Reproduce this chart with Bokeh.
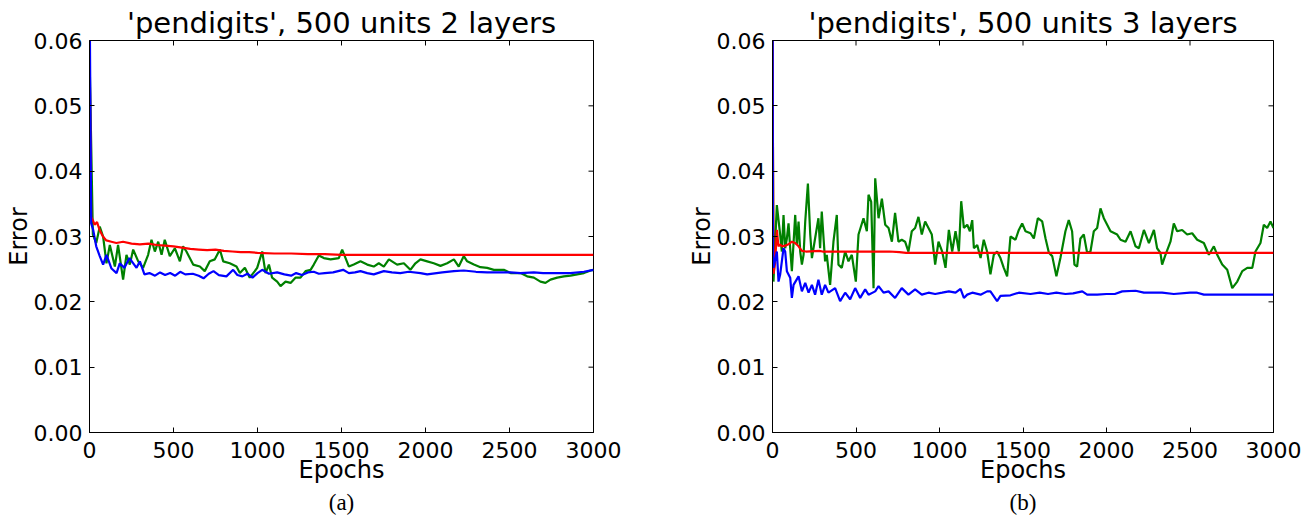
import math
from bokeh.plotting import figure
from bokeh.models import FixedTicker, PrintfTickFormatter, Range1d, Title
from bokeh.layouts import row
from bokeh.embed import file_html
from bokeh.resources import INLINE

x_ticks = [0, 500, 1000, 1500, 2000, 2500, 3000]
y_ticks = [0.0, 0.01, 0.02, 0.03, 0.04, 0.05, 0.06]

# ---------------- panel (a): 2 layers ----------------
a_red_x = [0, 10, 20, 30, 45, 60, 80, 100, 130, 160, 200, 250, 300, 350, 400, 450, 500, 550, 600,
           650, 700, 750, 800, 850, 900, 950, 1000, 1100, 1200, 1300, 1400, 1500, 3000]
a_red_y = [0.060, 0.0330, 0.0325, 0.0318, 0.0322, 0.0310, 0.0300, 0.0294, 0.0292, 0.0290, 0.0292,
           0.0289, 0.0288, 0.0289, 0.0287, 0.0286, 0.0285, 0.0283, 0.0281, 0.0280, 0.0279, 0.0280,
           0.0278, 0.0277, 0.0276, 0.0276, 0.0275, 0.0274, 0.0274, 0.0273, 0.0273, 0.0272, 0.0272]

a_green_x = [0, 20, 40, 61, 81, 101, 121, 151, 170, 200, 220, 240, 260, 290, 319, 349, 369, 389, 409,
             429, 448, 478, 508, 538, 557, 577, 617, 657, 686, 716, 746, 776, 796, 835, 875, 895, 925,
             954, 984, 998, 1028, 1048, 1068, 1087, 1117, 1137, 1167, 1197, 1226, 1256, 1286, 1316,
             1335, 1365, 1395, 1435, 1484, 1504, 1524, 1544, 1573, 1613, 1653, 1692, 1722, 1752, 1782,
             1831, 1871, 1910, 1940, 1970, 2010, 2049, 2089, 2129, 2169, 2198, 2228, 2248, 2288, 2327,
             2367, 2407, 2466, 2506, 2566, 2605, 2645, 2684, 2714, 2744, 2784, 2824, 2863, 2903, 2943,
             2983, 3000]
a_green_y = [0.058, 0.0303, 0.0290, 0.0315, 0.0300, 0.0259, 0.0287, 0.0254, 0.0287, 0.0234, 0.0272,
             0.0257, 0.0280, 0.0262, 0.0252, 0.0272, 0.0295, 0.0277, 0.0292, 0.0272, 0.0295, 0.0270,
             0.0282, 0.0262, 0.0285, 0.0277, 0.0257, 0.0254, 0.0247, 0.0262, 0.0265, 0.0280, 0.0262,
             0.0259, 0.0254, 0.0244, 0.0252, 0.0237, 0.0247, 0.0252, 0.0277, 0.0244, 0.0257, 0.0237,
             0.0231, 0.0224, 0.0231, 0.0229, 0.0237, 0.0237, 0.0247, 0.0249, 0.0257, 0.0271, 0.0267,
             0.0265, 0.0267, 0.0280, 0.0267, 0.0254, 0.0257, 0.0262, 0.0257, 0.0254, 0.0259, 0.0254,
             0.0265, 0.0257, 0.0259, 0.0249, 0.0259, 0.0265, 0.0262, 0.0259, 0.0255, 0.0259, 0.0265,
             0.0254, 0.0270, 0.0262, 0.0257, 0.0253, 0.0252, 0.0249, 0.0249, 0.0244, 0.0244, 0.0239,
             0.0237, 0.0231, 0.0229, 0.0234, 0.0237, 0.0239, 0.0240, 0.0242, 0.0244, 0.0248, 0.0249]

a_blue_x = [0, 10, 22, 40, 61, 81, 101, 131, 161, 180, 208, 238, 280, 300, 327, 357, 390, 420, 450,
            480, 510, 540, 570, 615, 650, 679, 710, 738, 770, 815, 855, 880, 910, 940, 970, 1000, 1028,
            1068, 1117, 1160, 1200, 1230, 1265, 1300, 1335, 1365, 1400, 1450, 1510, 1544, 1580, 1613,
            1653, 1692, 1752, 1800, 1850, 1900, 1970, 2010, 2100, 2169, 2228, 2300, 2367, 2450, 2506,
            2566, 2645, 2700, 2764, 2863, 2943, 3000]
a_blue_y = [0.070, 0.0320, 0.0310, 0.0285, 0.0270, 0.0257, 0.0272, 0.0251, 0.0244, 0.0259, 0.0252,
            0.0267, 0.0252, 0.0262, 0.0242, 0.0244, 0.0240, 0.0245, 0.0241, 0.0244, 0.0240, 0.0246,
            0.0242, 0.0243, 0.0240, 0.0236, 0.0243, 0.0247, 0.0241, 0.0239, 0.0249, 0.0241, 0.0239,
            0.0243, 0.0237, 0.0244, 0.0249, 0.0243, 0.0245, 0.0242, 0.0240, 0.0244, 0.0241, 0.0245,
            0.0246, 0.0243, 0.0244, 0.0245, 0.0249, 0.0244, 0.0245, 0.0247, 0.0244, 0.0242, 0.0247,
            0.0245, 0.0244, 0.0246, 0.0244, 0.0242, 0.0245, 0.0247, 0.0248, 0.0246, 0.0245, 0.0245,
            0.0245, 0.0244, 0.0245, 0.0244, 0.0244, 0.0244, 0.0246, 0.0249]

# ---------------- panel (b): 3 layers ----------------
b_red_x = [0, 6, 16, 26, 36, 46, 56, 76, 96, 116, 136, 156, 176, 200, 280, 300, 400, 500, 700, 760,
           800, 3000]
b_red_y = [0.060, 0.0243, 0.0260, 0.0310, 0.0285, 0.0288, 0.0285, 0.0286, 0.0288, 0.0292, 0.0290,
           0.0285, 0.0278, 0.0277, 0.0278, 0.0277, 0.0277, 0.0277, 0.0277, 0.0276, 0.0275, 0.0275]

b_green_x = [0, 6, 26, 46, 56, 66, 76, 86, 96, 106, 116, 136, 146, 156, 166, 176, 186, 196, 212, 226,
             236, 255, 275, 285, 295, 315, 325, 345, 365, 385, 395, 415, 435, 455, 475, 499, 515, 545,
             565, 575, 591, 605, 615, 635, 655, 675, 695, 715, 734, 754, 774, 794, 814, 834, 854, 874,
             894, 914, 934, 954, 974, 994, 1016, 1036, 1056, 1076, 1096, 1116, 1130, 1146, 1166, 1182,
             1196, 1206, 1226, 1246, 1265, 1285, 1305, 1325, 1345, 1365, 1385, 1405, 1425, 1455, 1475,
             1495, 1515, 1545, 1565, 1589, 1615, 1635, 1655, 1675, 1700, 1724, 1754, 1774, 1794, 1808,
             1824, 1844, 1864, 1884, 1904, 1924, 1944, 1964, 1984, 2024, 2064, 2084, 2114, 2144, 2174,
             2194, 2224, 2254, 2284, 2303, 2323, 2333, 2353, 2383, 2403, 2423, 2453, 2483, 2513, 2543,
             2583, 2613, 2643, 2663, 2693, 2723, 2753, 2783, 2813, 2843, 2873, 2892, 2922, 2942, 2962,
             2982, 3000]
b_green_y = [0.060, 0.0231, 0.0348, 0.0303, 0.0277, 0.0333, 0.0282, 0.0297, 0.0320, 0.0282, 0.0247,
             0.0333, 0.0287, 0.0323, 0.0277, 0.0257, 0.0272, 0.0323, 0.0381, 0.0303, 0.0267, 0.0297,
             0.0328, 0.0282, 0.0338, 0.0262, 0.0272, 0.0226, 0.0292, 0.0333, 0.0257, 0.0252, 0.0277,
             0.0262, 0.0272, 0.0231, 0.0303, 0.0328, 0.0308, 0.0364, 0.0353, 0.0221, 0.0389, 0.0328,
             0.0358, 0.0318, 0.0313, 0.0292, 0.0336, 0.0292, 0.0295, 0.0292, 0.0277, 0.0308, 0.0313,
             0.0330, 0.0303, 0.0323, 0.0313, 0.0303, 0.0257, 0.0292, 0.0277, 0.0252, 0.0310, 0.0277,
             0.0308, 0.0277, 0.0354, 0.0313, 0.0318, 0.0308, 0.0325, 0.0282, 0.0287, 0.0267, 0.0295,
             0.0277, 0.0242, 0.0272, 0.0277, 0.0267, 0.0252, 0.0239, 0.0300, 0.0295, 0.0310, 0.0320,
             0.0308, 0.0305, 0.0297, 0.0328, 0.0323, 0.0297, 0.0275, 0.0270, 0.0239, 0.0267, 0.0308,
             0.0325, 0.0308, 0.0257, 0.0254, 0.0297, 0.0303, 0.0275, 0.0277, 0.0308, 0.0313, 0.0343,
             0.0328, 0.0308, 0.0303, 0.0295, 0.0292, 0.0308, 0.0285, 0.0282, 0.0310, 0.0290, 0.0310,
             0.0282, 0.0275, 0.0257, 0.0272, 0.0292, 0.0320, 0.0308, 0.0310, 0.0303, 0.0305, 0.0295,
             0.0290, 0.0272, 0.0285, 0.0272, 0.0257, 0.0249, 0.0221, 0.0231, 0.0247, 0.0252, 0.0252,
             0.0277, 0.0290, 0.0318, 0.0313, 0.0323, 0.0313]

b_blue_x = [0, 3, 6, 26, 36, 46, 66, 76, 86, 106, 116, 126, 156, 176, 196, 216, 236, 255, 275, 295,
            315, 335, 375, 405, 435, 465, 495, 525, 555, 575, 615, 635, 665, 695, 734, 774, 814, 854,
            894, 934, 974, 1016, 1056, 1096, 1126, 1146, 1166, 1196, 1246, 1285, 1305, 1345, 1365,
            1425, 1475, 1545, 1600, 1650, 1700, 1754, 1800, 1855, 1884, 1944, 2000, 2050, 2094, 2174,
            2224, 2300, 2333, 2403, 2500, 2543, 2583, 2700, 3000]
b_blue_y = [0.075, 0.0277, 0.0252, 0.0277, 0.0231, 0.0242, 0.0282, 0.0277, 0.0247, 0.0237, 0.0206,
            0.0226, 0.0239, 0.0216, 0.0229, 0.0214, 0.0226, 0.0211, 0.0234, 0.0211, 0.0226, 0.0214,
            0.0221, 0.0201, 0.0214, 0.0204, 0.0221, 0.0206, 0.0219, 0.0211, 0.0216, 0.0224, 0.0214,
            0.0216, 0.0206, 0.0221, 0.0211, 0.0219, 0.0211, 0.0214, 0.0212, 0.0214, 0.0216, 0.0214,
            0.0220, 0.0206, 0.0211, 0.0214, 0.0211, 0.0216, 0.0216, 0.0201, 0.0209, 0.0210, 0.0214,
            0.0212, 0.0214, 0.0212, 0.0214, 0.0212, 0.0213, 0.0216, 0.0211, 0.0211, 0.0212, 0.0212,
            0.0216, 0.0217, 0.0214, 0.0214, 0.0214, 0.0212, 0.0214, 0.0214, 0.0211, 0.0211, 0.0211]

FONT = "DejaVu Sans"


def make_panel(title, caption, red, green, blue, width, left, right):
    p = figure(width=width, height=516, x_range=Range1d(x_ticks[0], x_ticks[-1]),
               y_range=Range1d(y_ticks[0], y_ticks[-1]),
               output_backend="svg", toolbar_location=None,
               min_border_left=left, min_border_right=right,
               min_border_top=40, min_border_bottom=84)
    p.title.text = title
    p.title.align = "center"
    p.title.text_font = FONT
    p.title.text_font_size = "29px"
    p.title.text_font_style = "normal"
    p.title.text_color = "black"
    p.title.standoff = 2
    p.xgrid.visible = False
    p.ygrid.visible = False
    p.outline_line_color = "black"
    p.outline_line_alpha = 1
    p.outline_line_width = 1
    p.background_fill_color = "white"
    p.border_fill_color = "white"

    p.xaxis.ticker = FixedTicker(ticks=x_ticks)
    p.yaxis.ticker = FixedTicker(ticks=y_ticks)
    p.yaxis.formatter = PrintfTickFormatter(format="%.2f")
    for ax in (p.xaxis[0], p.yaxis[0]):
        ax.major_tick_in = 5
        ax.major_tick_out = 0
        ax.minor_tick_in = 0
        ax.minor_tick_out = 0
        ax.axis_line_color = "black"
        ax.major_tick_line_color = "black"
        ax.major_label_text_font = FONT
        ax.major_label_text_font_size = "22px"
        ax.major_label_text_color = "black"
        ax.axis_label_text_font = FONT
        ax.axis_label_text_font_size = "24px"
        ax.axis_label_text_font_style = "normal"
        ax.axis_label_text_color = "black"
    p.xaxis.axis_label = "Epochs"
    p.yaxis.axis_label = "Error"
    p.xaxis.major_label_standoff = 9
    p.xaxis.axis_label_standoff = -5
    p.yaxis.major_label_standoff = 7
    p.yaxis.axis_label_standoff = -2

    # inward tick marks on the top and right frame edges
    p.scatter(x_ticks, [y_ticks[-1]] * len(x_ticks), marker="dash", angle=math.pi / 2,
              size=10, line_color="black", line_width=1)
    p.scatter([x_ticks[-1]] * len(y_ticks), y_ticks, marker="dash",
              size=10, line_color="black", line_width=1)

    p.line(green[0], green[1], line_color="#008000", line_width=2.2)
    p.line(red[0], red[1], line_color="#ff0000", line_width=2.2)
    p.line(blue[0], blue[1], line_color="#0000ff", line_width=2.2)

    cap = Title(text=caption, align="center", text_font="Liberation Serif", text_font_size="23px",
                text_font_style="normal", text_color="black", standoff=2)
    p.add_layout(cap, "below")
    return p


pa = make_panel("'pendigits', 500 units 2 layers", "(a)",
                (a_red_x, a_red_y), (a_green_x, a_green_y), (a_blue_x, a_blue_y), 656, 89, 63)
pb = make_panel("'pendigits', 500 units 3 layers", "(b)",
                (b_red_x, b_red_y), (b_green_x, b_green_y), (b_blue_x, b_blue_y), 656, 116, 39)

layout = row(pa, pb)
open("out.html", "w").write(file_html(layout, INLINE))
